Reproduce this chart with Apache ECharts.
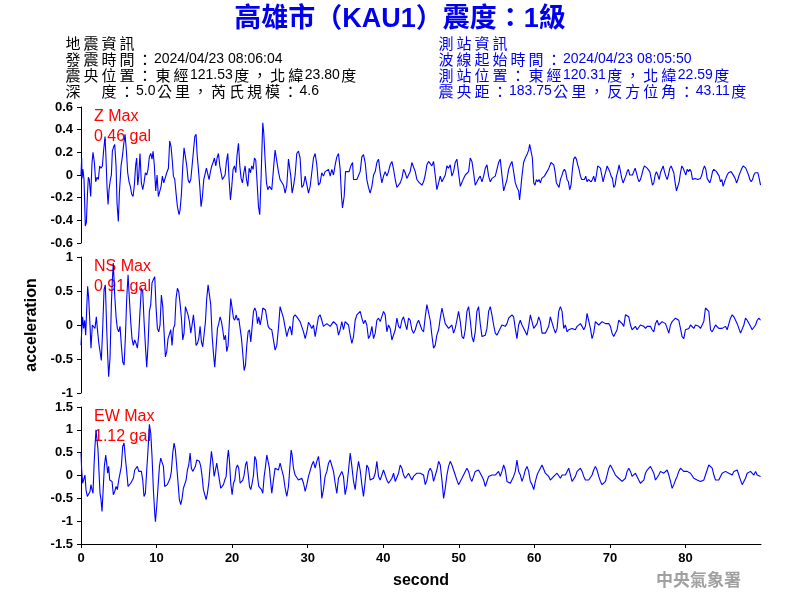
<!DOCTYPE html>
<html>
<head>
<meta charset="utf-8">
<script src="https://cdn.jsdelivr.net/npm/echarts@6/dist/echarts.min.js"></script>
<style>html,body{margin:0;padding:0;background:#fff;}#c{width:800px;height:600px;}</style>
</head>
<body>
<div id="c"></div>
<script>
// ---------------- DATA ----------------
const titleText = '高雄市（KAU1）震度：1級';
const quakeInfo = ['地震資訊', '發震時間：2024/04/23 08:06:04', '震央位置：東經121.53度，北緯23.80度', '深　度：5.0公里，芮氏規模：4.6'];
const stationInfo = ['測站資訊', '波線起始時間：2024/04/23 08:05:50', '測站位置：東經120.31度，北緯22.59度', '震央距：183.75公里，反方位角：43.11度'];
const maxLabels = [['Z Max', '0.46 gal'], ['NS Max', '0.91 gal'], ['EW Max', '1.12 gal']];
const timeRange = [0, 90, 10];
const timeTicks = [0, 10, 20, 30, 40, 50, 60, 70, 80];
const zRange = [-0.6, 0.6, 0.2];
const nsRange = [-1, 1, 0.5];
const ewRange = [-1.5, 1.5, 0.5];
const yLabel = 'acceleration';
const xLabel = 'second';
const agency = '中央氣象署';

const zData = [[0,0],[0.09,0.15],[0.13,-0.03],[0.26,0.05],[0.4,-0.04],[0.57,-0.45],[0.71,-0.42],[0.84,-0.19],[0.97,-0.02],[1.1,-0.04],[1.28,-0.19],[1.46,0.11],[1.59,0.2],[1.77,0.11],[1.94,-0.06],[2.12,-0.02],[2.3,-0.04],[2.47,0.08],[2.65,0.06],[2.83,0.08],[3,0.22],[3.18,0.34],[3.31,0.15],[3.44,-0.1],[3.58,-0.26],[3.71,-0.13],[3.89,-0.04],[4.02,0],[4.15,0.21],[4.33,0.25],[4.46,0.27],[4.64,0.08],[4.77,-0.25],[4.94,-0.41],[5.08,-0.16],[5.3,0.08],[5.47,0.16],[5.65,0.27],[5.83,0.36],[6,0.22],[6.18,0.02],[6.36,-0.06],[6.53,-0.1],[6.71,-0.17],[6.89,-0.19],[7.06,-0.09],[7.24,0.09],[7.37,0.15],[7.51,-0.09],[7.64,-0.01],[7.81,0.19],[7.99,-0.07],[8.17,-0.13],[8.34,-0.07],[8.52,0.02],[8.7,0],[8.87,0.05],[9.05,0.16],[9.23,0.19],[9.4,0.14],[9.54,0.21],[9.71,0.08],[9.89,-0.14],[10.07,0],[10.24,-0.19],[10.42,-0.2],[10.6,-0.1],[10.77,-0.01],[10.95,-0.07],[11.13,-0.06],[11.35,0.02],[11.57,0.06],[11.74,0.3],[11.92,0.25],[12.1,0.11],[12.23,-0.01],[12.41,-0.04],[12.58,-0.16],[12.76,-0.28],[12.98,-0.35],[13.11,-0.31],[13.29,-0.17],[13.47,0.08],[13.64,0.24],[13.82,0.16],[14,0.08],[14.17,-0.04],[14.35,-0.07],[14.53,-0.04],[14.7,0.08],[14.88,0.21],[15.06,0.34],[15.23,0.36],[15.36,0.19],[15.54,0.05],[15.72,-0.1],[15.89,-0.28],[16.07,-0.19],[16.25,-0.04],[16.42,-0.04],[16.6,0.06],[16.78,0.05],[16.95,-0.04],[17.13,0.03],[17.31,0.08],[17.48,0.11],[17.66,0.15],[17.84,0.08],[18.01,0.15],[18.19,0.19],[18.37,0.08],[18.54,0.02],[18.72,-0.04],[18.9,-0.04],[19.07,0],[19.25,0.12],[19.43,0.19],[19.6,-0.04],[19.78,-0.22],[19.96,-0.1],[20.13,0.05],[20.31,0.08],[20.49,0.02],[20.66,0.18],[20.84,0.28],[21.02,0.08],[21.19,-0.03],[21.37,-0.07],[21.55,0.02],[21.72,0.08],[21.9,-0.04],[22.08,-0.1],[22.25,0.06],[22.43,0.02],[22.6,0.08],[22.78,0.05],[22.96,0.15],[23.13,0.13],[23.31,-0.07],[23.49,-0.28],[23.66,-0.35],[23.84,-0.01],[23.97,0.28],[24.06,0.46],[24.19,0.37],[24.37,0.13],[24.55,-0.07],[24.72,-0.13],[24.94,-0.1],
[25.25,-0.13],[25.47,0.05],[25.69,0.22],[25.91,0.21],[26.13,0.03],[26.35,-0.04],[26.58,-0.04],[26.8,-0.09],[27.02,-0.16],[27.24,-0.09],[27.46,0.14],[27.59,0.14],[27.77,-0.01],[27.94,-0.16],[28.12,-0.1],[28.34,0],[28.56,0.19],[28.78,0.21],[29,0.15],[29.22,-0.11],[29.45,-0.09],[29.67,-0.01],[29.89,0],[30.11,-0.16],[30.33,-0.1],[30.55,-0.1],[30.77,0.15],[30.99,0.19],[31.21,0.09],[31.43,-0.09],[31.65,-0.07],[31.87,0.02],[32.09,-0.01],[32.31,0.03],[32.54,0.02],[32.76,0.05],[32.98,-0.01],[33.2,0.05],[33.42,0],[33.64,0.09],[33.86,0.16],[34.08,0.19],[34.3,0.05],[34.48,-0.19],[34.61,-0.29],[34.83,-0.19],[35.01,0.03],[35.27,0.02],[35.49,0.03],[35.71,0.08],[35.94,0.11],[36.07,-0.04],[36.29,-0.03],[36.51,-0.04],[36.73,-0.03],[36.95,0.03],[37.17,0.16],[37.39,0.18],[37.61,0.11],[37.83,-0.04],[38.05,-0.11],[38.27,-0.16],[38.5,-0.1],[38.72,0],[38.94,0.03],[39.16,0.11],[39.38,0.14],[39.6,0.02],[39.82,-0.07],[40.04,-0.01],[40.26,0.03],[40.48,-0.01],[40.7,0.03],[40.92,0.09],[41.15,0.12],[41.37,0.05],[41.59,-0.04],[41.81,-0.11],[42.03,-0.11],[42.25,-0.07],[42.47,-0.03],[42.69,0.05],[42.91,0.02],[43.13,-0.03],[43.35,-0.04],[43.57,0.03],[43.79,0.11],[44.01,0.11],[44.24,0.03],[44.46,-0.04],[44.68,-0.06],[44.9,-0.07],[45.12,-0.09],[45.34,-0.06],[45.56,0],[45.78,0.09],[46,0.12],[46.22,0.11],[46.44,0.08],[46.66,0.12],[46.88,0],[47.1,-0.13],[47.33,-0.07],[47.55,-0.01],[47.77,-0.06],[47.99,-0.03],[48.21,0],[48.43,0.08],[48.65,0.06],[48.87,0.09],[49.09,-0.01],[49.31,0.03],[49.53,0.11],[49.75,0.14],[49.97,0.02],[50.2,-0.1],[50.42,-0.09],[50.64,-0.03],[50.86,0],[51.08,-0.01],[51.3,0.03],[51.52,0.15],[51.74,0.12],[51.96,0.02],[52.18,-0.09],[52.4,-0.09],[52.62,-0.03],[52.84,-0.01],[53.07,-0.06],[53.29,-0.01],[53.51,0.06],[53.73,0.09],[53.95,-0.01],[54.17,-0.06],[54.39,-0.03],[54.61,-0.04],[54.83,-0.01],[55.05,0.05],[55.27,0.11],[55.49,0.14],[55.71,0],[55.94,-0.14],[56.16,-0.13],[56.38,-0.04],[56.6,0.05],[56.82,0.09],[57.04,0.12],[57.26,0.03],[57.48,-0.07],[57.7,-0.11],[57.92,-0.14],[58.05,-0.22],[58.23,-0.1],[58.36,-0.01],[58.58,0.11],[58.8,0.15],[59.03,0.18],[59.25,0.22],[59.38,0.27],
[59.56,0.21],[59.74,0.15],[59.92,-0.07],[60.09,-0.09],[60.27,-0.04],[60.45,-0.06],[60.62,-0.04],[60.8,-0.07],[60.98,-0.03],[61.15,-0.03],[61.33,-0.01],[61.51,0],[61.68,0.03],[61.86,0.05],[62.04,0.06],[62.21,0.11],[62.39,0.12],[62.57,0.09],[62.74,0.03],[62.92,-0.07],[63.1,-0.09],[63.27,-0.11],[63.45,-0.04],[63.62,-0.01],[63.8,0.03],[63.98,0.05],[64.15,0.03],[64.33,-0.04],[64.51,-0.06],[64.68,-0.13],[64.86,-0.09],[65.04,0.05],[65.21,0.14],[65.39,0.16],[65.57,0.14],[65.74,0.09],[65.92,0.05],[66.1,-0.01],[66.27,-0.04],[66.45,-0.03],[66.63,-0.04],[66.8,-0.01],[66.98,-0.06],[67.16,-0.04],[67.33,-0.03],[67.51,-0.06],[67.69,-0.04],[67.86,-0.01],[68.04,-0.06],[68.22,0],[68.39,0.08],[68.57,0.09],[68.75,0.06],[68.92,0],[69.1,-0.06],[69.28,-0.01],[69.45,0.03],[69.63,0.08],[69.81,0.09],[69.98,0.03],[70.16,-0.01],[70.34,-0.03],[70.51,-0.11],[70.69,-0.09],[70.87,-0.01],[71.04,0.03],[71.22,0.09],[71.4,0.03],[71.57,-0.03],[71.75,-0.07],[71.92,-0.06],[72.1,-0.01],[72.28,0.03],[72.45,0.05],[72.63,0],[72.81,-0.01],[72.98,0],[73.16,0.03],[73.34,0.06],[73.51,0.02],[73.69,-0.03],[73.87,-0.06],[74.04,-0.04],[74.22,0],[74.4,0.05],[74.57,0.08],[74.75,0.09],[74.93,0.06],[75.1,0.05],[75.28,0.03],[75.46,-0.03],[75.63,-0.09],[75.81,-0.07],[75.99,0],[76.16,0.03],[76.34,0],[76.52,-0.04],[76.69,0.02],[76.87,0.03],[77.05,0.08],[77.22,0.03],[77.4,-0.01],[77.58,-0.04],[77.75,0],[77.93,0.06],[78.11,0.08],[78.28,0.09],[78.46,0.02],[78.64,-0.07],[78.81,-0.14],[78.99,-0.1],[79.17,-0.06],[79.34,0.02],[79.52,0.08],[79.7,0.06],[79.87,0.03],[80.05,0],[80.23,0.05],[80.4,0.03],[80.58,0.05],[80.76,0.03],[80.93,-0.04],[81.11,-0.04],[81.28,-0.03],[81.46,-0.04],[81.64,-0.04],[81.81,-0.04],[81.99,-0.03],[82.17,0],[82.34,0.05],[82.52,0.08],[82.7,0.05],[82.87,-0.03],[83.05,-0.04],[83.23,-0.07],[83.4,-0.03],[83.58,0.03],[83.76,0.05],[83.93,0.05],[84.11,0.03],[84.29,0.02],[84.46,-0.01],[84.64,-0.06],[84.82,-0.04],[84.99,-0.1],[85.17,-0.06],[85.35,-0.03],[85.52,0],[85.7,0.02],[85.88,0.03],[86.05,0.03],[86.23,0.02],[86.41,-0.01],[86.58,-0.03],[86.76,-0.07],[86.94,-0.04],[87.11,0],[87.29,0.03],[87.47,0.06],[87.64,0.08],[87.82,0.08],[87.99,0.06],[88.17,0.03],[88.35,0],[88.52,-0.04],[88.7,-0.06],[88.88,-0.04],[89.05,0],[89.23,0.02],[89.41,0.03],[89.58,0.02],[89.76,-0.03],[89.94,-0.09]];

const nsData = [[0,-0.3],[0.09,-0.1],[0.22,0.12],[0.35,-0.05],[0.49,0.07],[0.62,-0.15],[0.75,0.22],[0.88,0.57],[1.02,0.39],[1.19,0],[1.32,-0.34],[1.5,0],[1.68,-0.02],[1.85,-0.05],[2.03,0.12],[2.16,-0.05],[2.34,-0.25],[2.52,-0.39],[2.69,-0.52],[2.87,-0.05],[3.05,0.52],[3.22,0.59],[3.4,-0.05],[3.53,-0.44],[3.66,-0.76],[3.84,-0.49],[4.02,0.3],[4.15,0.67],[4.28,0.91],[4.46,0.44],[4.64,0.12],[4.81,-0.05],[4.99,-0.1],[5.17,-0.02],[5.34,-0.3],[5.52,-0.54],[5.7,-0.59],[5.87,-0.2],[6.05,0.39],[6.23,0.74],[6.4,0.39],[6.58,0.05],[6.75,-0.2],[6.93,-0.3],[7.11,-0.22],[7.28,-0.27],[7.46,-0.34],[7.64,-0.15],[7.81,0.2],[7.99,0.54],[8.17,0.49],[8.34,0.07],[8.52,-0.3],[8.7,-0.62],[8.87,-0.3],[9.05,0.2],[9.23,0.3],[9.4,0.62],[9.58,0.67],[9.76,0.71],[9.93,0.27],[10.11,-0.05],[10.29,-0.1],[10.46,0],[10.64,0.44],[10.82,0.27],[10.99,-0.1],[11.17,-0.47],[11.35,-0.39],[11.52,-0.2],[11.7,-0.2],[11.88,-0.07],[12.05,-0.3],[12.23,-0.05],[12.41,0],[12.58,0.39],[12.76,0.54],[12.94,0.49],[13.11,0.32],[13.29,0.1],[13.47,-0.22],[13.64,-0.12],[13.82,0.27],[14,0.25],[14.17,0.15],[14.35,0.05],[14.53,-0.12],[14.7,0],[14.88,0.15],[15.06,-0.05],[15.23,-0.3],[15.41,-0.27],[15.59,-0.2],[15.76,-0.02],[15.94,-0.25],[16.11,-0.32],[16.29,-0.3],[16.47,0.05],[16.64,0.39],[16.82,0.59],[17,0.59],[17.17,0.3],[17.35,-0.15],[17.53,-0.42],[17.7,-0.62],[17.88,-0.34],[18.06,-0.05],[18.23,0.02],[18.41,0.12],[18.59,0.05],[18.76,-0.07],[18.94,-0.22],[19.12,-0.15],[19.29,-0.39],[19.47,-0.3],[19.65,0.07],[19.82,0.39],[20,0.25],[20.18,0.1],[20.35,0.07],[20.53,0.15],[20.71,0.07],[20.88,0.1],[21.06,-0.05],[21.24,-0.2],[21.41,-0.42],[21.59,-0.67],[21.77,-0.59],[21.94,-0.3],[22.12,-0.1],[22.3,-0.07],[22.47,-0.25],[22.65,-0.02],[22.83,0.2],[23,0.25],[23.18,0.2],[23.36,0.02],[23.53,0.12],[23.71,0],[23.89,0.1],[24.06,0.25],[24.24,0.27],[24.42,0.22],[24.59,0.1],[24.77,-0.02],[24.94,-0.05],
[25.25,-0.07],[25.47,-0.22],[25.69,-0.37],[25.91,-0.3],[26.13,-0.05],[26.35,0.27],[26.58,0.25],[26.8,0.1],[27.02,0.1],[27.24,-0.17],[27.46,-0.07],[27.68,-0.02],[27.9,-0.15],[28.12,0.12],[28.34,0.15],[28.56,0.12],[28.78,0.1],[29,0.05],[29.22,0.07],[29.45,-0.1],[29.67,-0.2],[29.89,-0.1],[30.11,0.04],[30.33,0],[30.55,-0.05],[30.77,0],[30.99,-0.17],[31.21,-0.15],[31.43,0.12],[31.65,0.15],[31.87,0.07],[32.09,-0.02],[32.31,0],[32.54,0.02],[32.76,0],[32.98,-0.02],[33.2,0],[33.42,0.05],[33.64,0.07],[33.86,0],[34.08,-0.15],[34.3,-0.07],[34.52,0.05],[34.74,-0.07],[34.96,0.05],[35.18,0.05],[35.41,0],[35.63,-0.15],[35.85,-0.27],[36.07,-0.17],[36.29,0.07],[36.51,0.15],[36.73,0.17],[36.95,0.2],[37.17,0.1],[37.39,0.02],[37.61,0.07],[37.83,0],[38.05,-0.2],[38.27,-0.15],[38.5,-0.02],[38.72,-0.2],[38.94,-0.12],[39.16,0.07],[39.38,0.1],[39.6,0.05],[39.82,0.07],[40.04,0.2],[40.26,0.15],[40.48,-0.1],[40.7,0],[40.92,-0.05],[41.15,-0.22],[41.37,-0.2],[41.59,-0.07],[41.81,0.1],[42.03,-0.02],[42.25,-0.05],[42.47,0.07],[42.69,0.12],[42.91,0.02],[43.13,-0.07],[43.35,0.1],[43.57,0.07],[43.79,-0.07],[44.01,-0.12],[44.24,-0.07],[44.46,0.02],[44.68,0.07],[44.9,0],[45.12,-0.07],[45.34,-0.1],[45.56,0.12],[45.78,0.3],[46,0.32],[46.22,0.07],[46.44,-0.15],[46.66,-0.34],[46.88,-0.3],[47.1,-0.15],[47.33,-0.07],[47.55,0.1],[47.77,0.25],[47.99,0.27],[48.21,0.02],[48.43,0],[48.65,-0.05],[48.87,-0.07],[49.09,0],[49.31,-0.12],[49.53,-0.05],[49.75,0.07],[49.97,0.2],[50.2,0.05],[50.42,-0.17],[50.64,-0.2],[50.86,-0.07],[51.08,0.2],[51.3,0.27],[51.52,0.07],[51.74,-0.17],[51.96,-0.25],[52.18,-0.1],[52.4,0.2],[52.62,0.27],[52.84,0.02],[53.07,-0.17],[53.29,-0.17],[53.51,-0.15],[53.73,-0.05],[53.95,0.2],[54.17,0.27],[54.39,0.15],[54.61,0],[54.83,-0.12],[55.05,-0.15],[55.27,-0.1],[55.49,-0.12],[55.71,0],[55.94,0],[56.16,-0.02],[56.38,0.02],[56.6,0.1],[56.82,0.12],[57.04,0.15],[57.26,0.12],[57.48,-0.05],[57.7,-0.2],[57.92,0],[58.14,0.07],
[58.37,0],[58.59,-0.02],[58.81,-0.1],[59.03,-0.15],[59.25,-0.02],[59.47,0.15],[59.7,0.17],[59.92,-0.05],[60.14,-0.07],[60.36,0.02],[60.58,0.12],[60.8,0.05],[61.02,-0.12],[61.24,-0.12],[61.46,-0.12],[61.68,-0.1],[61.9,-0.02],[62.12,0.12],[62.34,0.1],[62.57,-0.05],[62.79,-0.12],[63.01,-0.05],[63.23,0.2],[63.45,0.27],[63.67,0.2],[63.89,-0.05],[64.11,0],[64.33,-0.1],[64.55,-0.07],[64.77,-0.07],[64.99,-0.05],[65.21,-0.07],[65.43,-0.07],[65.66,-0.02],[65.88,0],[66.1,0.02],[66.32,-0.02],[66.54,-0.07],[66.76,-0.02],[66.98,0.17],[67.2,0.17],[67.42,-0.05],[67.64,-0.2],[67.86,-0.12],[68.08,0.05],[68.3,0.07],[68.53,0],[68.75,0],[68.97,0.05],[69.19,0.07],[69.41,0.02],[69.63,0],[69.85,0.02],[70.07,-0.02],[70.29,-0.12],[70.51,-0.17],[70.73,-0.15],[70.95,-0.07],[71.17,0.07],[71.4,0.07],[71.62,0.02],[71.84,-0.02],[72.06,0.15],[72.28,0.17],[72.5,0.12],[72.72,0],[72.94,-0.07],[73.16,-0.05],[73.38,-0.02],[73.6,-0.07],[73.82,-0.05],[74.04,0],[74.27,0],[74.49,-0.02],[74.71,-0.05],[74.93,-0.02],[75.15,0],[75.37,-0.02],[75.59,-0.07],[75.81,-0.1],[76.03,0.02],[76.25,0.07],[76.47,0],[76.69,0.02],[76.91,0.05],[77.13,0.07],[77.36,0.02],[77.58,-0.05],[77.8,-0.12],[78.02,0],[78.24,0.05],[78.46,0.07],[78.68,0.1],[78.9,0.12],[79.12,0.07],[79.34,-0.05],[79.56,-0.17],[79.78,-0.2],[80,-0.07],[80.23,-0.05],[80.45,-0.05],[80.67,0],[80.89,0],[81.11,-0.05],[81.33,0],[81.55,0],[81.77,-0.02],[81.99,-0.05],[82.21,-0.07],[82.43,0.05],[82.65,0.25],[82.87,0.25],[83.09,0.2],[83.32,-0.07],[83.54,-0.1],[83.76,-0.05],[83.98,0],[84.2,-0.02],[84.42,-0.05],[84.64,-0.07],[84.86,-0.05],[85.08,-0.05],[85.3,-0.02],[85.52,-0.07],[85.74,-0.05],[85.96,0.1],[86.19,0.15],[86.41,0.12],[86.63,0.1],[86.85,0.02],[87.07,-0.05],[87.29,-0.12],[87.51,-0.12],[87.73,0],[87.95,0.1],[88.17,0.07],[88.39,0.05],[88.61,-0.02],[88.83,-0.07],[89.06,-0.07],[89.28,0],[89.5,0.07],[89.72,0.1],[89.94,0.07]];

const ewData = [[0,0.49],[0.09,0.12],[0.22,-0.17],[0.4,-0.17],[0.53,0.01],[0.66,-0.31],[0.84,-0.46],[1.02,-0.42],[1.19,-0.35],[1.32,-0.2],[1.46,-0.31],[1.59,-0.39],[1.72,0.2],[1.85,0.64],[1.99,1.0],[2.12,0.78],[2.25,0.56],[2.38,0.09],[2.52,-0.39],[2.65,-0.53],[2.78,-0.79],[2.91,-0.39],[3.09,0.2],[3.27,0.45],[3.4,0.27],[3.53,0.05],[3.66,0.2],[3.8,-0.1],[3.93,-0.13],[4.11,-0.13],[4.28,-0.42],[4.46,-0.35],[4.64,-0.24],[4.81,-0.31],[4.99,-0.1],[5.17,0.05],[5.34,0.2],[5.52,0.64],[5.7,0.71],[5.87,0.38],[6.05,0.09],[6.23,-0.24],[6.4,-0.2],[6.58,-0.17],[6.75,-0.17],[6.93,-0.06],[7.11,0.12],[7.28,0.16],[7.46,0.2],[7.64,0.09],[7.81,0.12],[7.99,0.09],[8.17,-0.1],[8.34,-0.46],[8.52,-0.39],[8.7,0.12],[8.87,0.56],[9.05,1.12],[9.23,0.93],[9.4,0.42],[9.58,-0.31],[9.76,-0.83],[9.85,-1.01],[10.02,-0.68],[10.2,-0.24],[10.38,0.2],[10.55,0.38],[10.73,0.42],[10.91,0.2],[11.08,-0.24],[11.26,-0.24],[11.43,-0.2],[11.61,-0.2],[11.79,-0.06],[11.96,0.09],[12.14,0.49],[12.32,0.71],[12.49,0.56],[12.67,0.2],[12.85,-0.17],[13.02,-0.53],[13.2,-0.64],[13.38,-0.5],[13.55,-0.28],[13.73,-0.24],[13.91,-0.1],[14.08,0.12],[14.26,0.23],[14.44,0.49],[14.61,0.16],[14.79,0.09],[14.97,0.12],[15.14,0.2],[15.32,0.34],[15.5,0.38],[15.67,0.31],[15.85,0.2],[16.03,-0.02],[16.2,-0.31],[16.38,-0.42],[16.56,-0.53],[16.73,-0.39],[16.91,-0.17],[17.09,0.2],[17.26,0.53],[17.44,0.31],[17.62,-0.02],[17.79,0.12],[17.97,0.27],[18.15,0.31],[18.32,-0.1],[18.5,-0.28],[18.68,-0.31],[18.85,-0.2],[19.03,-0.1],[19.21,-0.02],[19.38,0.38],[19.51,0.56],[19.65,0.31],[19.82,-0.17],[20,-0.42],[20.18,-0.17],[20.35,-0.1],[20.53,0.16],[20.71,0.23],[20.88,0.16],[21.06,-0.17],[21.24,-0.2],[21.41,-0.1],[21.59,0.01],[21.77,0.23],[21.94,0.31],[22.12,0.05],[22.3,-0.24],[22.47,-0.31],[22.65,-0.17],[22.83,0.01],[23,0.42],[23.18,0.34],[23.36,-0.02],[23.53,-0.24],[23.71,-0.24],[23.89,-0.31],[24.06,-0.39],[24.24,-0.02],[24.42,0.2],[24.59,0.45],[24.77,0.45],[24.94,0.16],
[25.03,-0.02],[25.25,-0.39],[25.47,-0.1],[25.69,0.16],[25.91,0.2],[26.13,0.12],[26.35,0.27],[26.58,0.23],[26.8,-0.02],[27.02,-0.28],[27.24,-0.46],[27.46,-0.24],[27.68,0.27],[27.81,0.56],[27.94,0.45],[28.12,0.16],[28.34,0.01],[28.56,-0.02],[28.78,-0.1],[29,-0.06],[29.22,-0.06],[29.45,-0.17],[29.67,-0.35],[29.89,-0.2],[30.11,-0.02],[30.33,0.01],[30.55,0.23],[30.77,0.31],[30.99,0.16],[31.21,0.31],[31.43,0.42],[31.65,0.12],[31.87,-0.5],[32.09,-0.31],[32.31,-0.02],[32.54,0.09],[32.76,0.27],[32.98,0.34],[33.2,0.31],[33.42,0.09],[33.64,-0.17],[33.86,-0.39],[34.08,-0.06],[34.3,-0.02],[34.52,0.09],[34.74,-0.02],[34.96,-0.42],[35.18,-0.24],[35.41,0.12],[35.63,0.49],[35.85,0.2],[36.07,-0.13],[36.29,-0.31],[36.51,0.05],[36.73,0.31],[36.95,0.12],[37.17,-0.2],[37.39,-0.46],[37.61,-0.13],[37.83,0.23],[38.05,0.16],[38.27,-0.1],[38.5,-0.1],[38.72,-0.06],[38.94,0.05],[39.16,0.31],[39.38,-0.02],[39.6,-0.1],[39.82,0.01],[40.04,0.12],[40.26,0.09],[40.48,-0.1],[40.7,-0.17],[40.92,-0.13],[41.15,-0.06],[41.37,0.05],[41.59,-0.13],[41.81,-0.1],[42.03,0.05],[42.25,0.23],[42.47,0.16],[42.69,0.01],[42.91,-0.06],[43.13,-0.02],[43.35,0.05],[43.57,0.05],[43.79,-0.1],[44.01,-0.02],[44.24,0.01],[44.46,0.05],[44.68,0.05],[44.9,0.05],[45.12,0.09],[45.34,0.01],[45.56,-0.2],[45.78,-0.1],[46,0.09],[46.22,0.16],[46.44,0.09],[46.66,-0.13],[46.88,-0.1],[47.1,0.12],[47.33,0.31],[47.55,0.23],[47.77,-0.1],[47.99,-0.5],[48.21,-0.28],[48.43,0.01],[48.65,0.2],[48.87,0.31],[49.09,0.23],[49.31,0.12],[49.53,0.01],[49.75,-0.1],[49.97,-0.2],[50.2,-0.13],[50.42,-0.06],[50.64,-0.02],[50.86,0.09],[51.08,0.16],[51.3,0.09],[51.52,-0.06],[51.74,-0.13],[51.96,-0.02],[52.18,0.09],[52.4,0.12],[52.62,0.12],[52.84,0.09],[53.07,-0.02],[53.29,-0.1],[53.51,-0.24],[53.73,-0.2],[53.95,-0.02],[54.17,0.01],[54.39,0.01],[54.61,0.05],[54.83,0.01],[55.05,0.01],[55.27,0.09],[55.49,-0.02],[55.71,0.09],[55.94,0.23],[56.16,0.12],[56.38,-0.13],[56.6,-0.17],[56.82,-0.17],[57.04,-0.13],[57.26,-0.02],[57.48,0.09],[57.7,0.34],[57.92,0.09],
[58.15,0.01],[58.37,-0.13],[58.59,-0.02],[58.81,0.12],[59.03,0.2],[59.25,0.09],[59.47,-0.13],[59.7,-0.2],[59.92,-0.31],[60.14,-0.13],[60.36,0.01],[60.58,0.09],[60.8,0.16],[61.02,0.23],[61.24,0.2],[61.46,0.05],[61.68,0.01],[61.9,-0.02],[62.12,-0.1],[62.34,-0.06],[62.57,-0.02],[62.79,0.01],[63.01,0.05],[63.23,0.01],[63.45,-0.06],[63.67,0.01],[63.89,-0.02],[64.11,0.01],[64.33,-0.02],[64.55,0.16],[64.77,0.12],[64.99,-0.13],[65.21,-0.1],[65.43,-0.02],[65.66,0.09],[65.88,0.12],[66.1,0.16],[66.32,0.09],[66.54,-0.02],[66.76,-0.1],[66.98,-0.1],[67.2,-0.1],[67.42,-0.06],[67.64,0.01],[67.86,0.12],[68.08,0.2],[68.3,0.12],[68.53,-0.02],[68.75,-0.13],[68.97,-0.2],[69.19,-0.24],[69.41,-0.13],[69.63,0.01],[69.85,0.16],[70.07,0.23],[70.29,0.2],[70.51,0.09],[70.73,0.01],[70.95,-0.02],[71.17,-0.06],[71.4,-0.1],[71.62,-0.13],[71.84,-0.17],[72.06,-0.06],[72.28,0.09],[72.5,0.16],[72.72,0.09],[72.94,-0.02],[73.16,0.01],[73.38,0.05],[73.6,0.01],[73.82,-0.1],[74.04,-0.17],[74.27,-0.2],[74.49,-0.1],[74.71,0.05],[74.93,0.12],[75.15,0.16],[75.37,0.2],[75.59,0.16],[75.81,0.05],[76.03,-0.1],[76.25,-0.06],[76.47,0.01],[76.69,0.09],[76.91,0.09],[77.13,0.05],[77.36,0.09],[77.58,0.12],[77.8,0.01],[78.02,-0.13],[78.24,-0.28],[78.46,-0.2],[78.68,-0.1],[78.9,-0.02],[79.12,0.09],[79.34,0.16],[79.56,0.16],[79.78,0.09],[80,0.05],[80.23,0.09],[80.45,0.09],[80.67,0.05],[80.89,0.01],[81.11,-0.06],[81.33,-0.06],[81.55,-0.1],[81.77,-0.1],[81.99,-0.13],[82.21,-0.17],[82.43,-0.1],[82.65,0.01],[82.87,0.12],[83.09,0.23],[83.32,0.27],[83.54,0.16],[83.76,0.01],[83.98,-0.1],[84.2,-0.13],[84.42,-0.1],[84.64,-0.02],[84.86,0.05],[85.08,0.09],[85.3,0.09],[85.52,0.05],[85.74,0.05],[85.96,0.01],[86.19,0.01],[86.41,0.09],[86.63,0.09],[86.85,0.12],[87.07,0.09],[87.29,-0.1],[87.51,-0.2],[87.73,-0.17],[87.95,-0.06],[88.17,0.05],[88.39,0.09],[88.61,0.09],[88.83,0.05],[89.06,0.01],[89.28,0.09],[89.5,0.01],[89.72,-0.02],[89.94,-0.02]];

// ---------------- CHART ----------------
const chart = echarts.init(document.getElementById('c'), null, {renderer: 'canvas'});
const LATIN = '"Liberation Sans", Arial, sans-serif';
const CJK = '"Noto Sans CJK TC", "Noto Sans CJK SC", sans-serif';

// each CJK / full-width character gets its own token so it can be spaced like the original
function richify(s) {
  let out = '', cur = '';
  for (const ch of s) {
    if (ch.charCodeAt(0) >= 0x2E80) {
      if (cur) { out += '{l|' + cur + '}'; cur = ''; }
      out += '{c|' + ch + '}';
    } else {
      cur += ch;
    }
  }
  if (cur) out += '{l|' + cur + '}';
  return out;
}
function headerLines(lines, x, color) {
  return lines.map((s, i) => ({
    type: 'text', x: x, y: 43.5 + i * 15.8, z: 10,
    style: {
      text: richify(s), fill: color, verticalAlign: 'middle', align: 'left',
      rich: {
        c: {fontFamily: CJK, fontSize: 15, fill: color, padding: [0, 1.5, 0, 1.5], lineHeight: 15},
        l: {fontFamily: LATIN, fontSize: 14, fill: color, lineHeight: 15}
      }
    }
  }));
}

const grids = [
  {left: 81, right: 39, top: 107, height: 136},
  {left: 81, right: 39, top: 257, height: 136},
  {left: 81, right: 39, top: 407, height: 137}
];
const ranges = [zRange, nsRange, ewRange];
const datas = [zData, nsData, ewData];

const axisFont = {color: '#000', fontWeight: 'bold', fontSize: 13, fontFamily: LATIN};

const xAxes = grids.map((g, i) => ({
  type: 'value', gridIndex: i, min: timeRange[0], max: timeRange[1], interval: timeRange[2],
  show: i === 2,
  axisLine: {show: true, onZero: false, lineStyle: {color: '#000', width: 1}},
  axisTick: {show: true, inside: false, length: 4, customValues: timeTicks, lineStyle: {color: '#000'}},
  axisLabel: Object.assign({margin: 8, customValues: timeTicks}, axisFont),
  splitLine: {show: false},
  name: i === 2 ? xLabel : '', nameLocation: 'middle', nameGap: 29,
  nameTextStyle: {color: '#000', fontWeight: 'bold', fontSize: 16, fontFamily: LATIN}
}));
const yAxes = grids.map((g, i) => ({
  type: 'value', gridIndex: i, min: ranges[i][0], max: ranges[i][1], interval: ranges[i][2],
  axisLine: {show: true, onZero: false, lineStyle: {color: '#000', width: 1}},
  axisTick: {show: true, inside: false, length: 4, lineStyle: {color: '#000'}},
  axisLabel: Object.assign({margin: 8}, axisFont),
  splitLine: {show: false},
  name: i === 1 ? yLabel : '', nameLocation: 'middle', nameGap: 39, nameRotate: 90,
  nameTextStyle: {color: '#000', fontWeight: 'bold', fontSize: 16, fontFamily: LATIN}
}));
const series = datas.map((d, i) => ({
  type: 'line', xAxisIndex: i, yAxisIndex: i, data: d, showSymbol: false, symbol: 'none',
  lineStyle: {color: '#0000ff', width: 1.1}, z: 5, silent: true
}));

const graphics = [
  {type: 'text', x: 400, y: 20, z: 10, style: {text: titleText, fill: '#0000ee', font: 'bold 27px "Liberation Sans", ' + CJK, align: 'center', verticalAlign: 'middle'}},
  ...headerLines(quakeInfo, 64, '#000'),
  ...headerLines(stationInfo, 437, '#0000ee'),
  {type: 'text', x: 656, y: 580, z: 10, style: {text: agency, fill: '#a0a0a0', font: 'bold 17px ' + CJK, align: 'left', verticalAlign: 'middle'}}
];
const panelTops = [107, 257, 407];
maxLabels.forEach((pair, i) => {
  pair.forEach((t, j) => {
    graphics.push({type: 'text', x: 94, y: panelTops[i] + 10 + j * 20, z: 0,
      style: {text: t, fill: '#ff0000', font: '16px ' + LATIN, align: 'left', verticalAlign: 'middle'}});
  });
});

chart.setOption({
  animation: false,
  backgroundColor: '#fff',
  grid: grids,
  xAxis: xAxes,
  yAxis: yAxes,
  series: series,
  graphic: {elements: graphics}
});
</script>
</body>
</html>
